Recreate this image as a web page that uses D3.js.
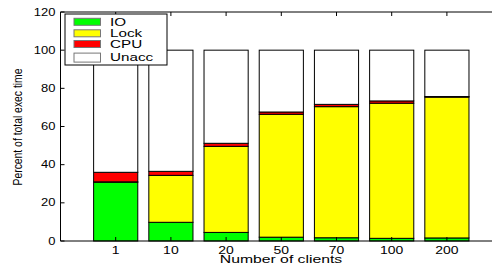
<!DOCTYPE html>
<html><head><meta charset="utf-8">
<script src="https://cdn.jsdelivr.net/npm/d3@7"></script>
<style>body{margin:0;background:#fff}svg{display:block}text{font-family:"Liberation Sans",Arial,sans-serif}</style>
</head><body><svg id="c" width="492" height="264"></svg>
<script>
const categories = ["1","10","20","50","70","100","200"];
const io   = [30.8, 9.8, 4.5, 2.0, 1.7, 1.4, 1.6];
const lock = [0.2, 24.6, 45.1, 64.4, 68.7, 70.8, 73.8];
const cpu  = [5.0, 2.1, 1.6, 1.2, 1.2, 1.2, 0.3];
const unacc = categories.map((c,i)=>100 - io[i] - lock[i] - cpu[i]);
const seriesNames = ["IO","Lock","CPU","Unacc"];
const colors = ["#00ff00","#ffff00","#ff0000","#ffffff"];
const yTicks = [0,20,40,60,80,100,120];

const svg = d3.select("#c");
const L=60.5, T=12, B=241;
const x = d3.scaleLinear().domain([0,8]).range([L, L+8*55.2]);
const y = d3.scaleLinear().domain([0,120]).range([B,T]);
const bw = 0.8*(x(1)-x(0));

// stretched text helper
function stext(parent, tx, ty, str, size, sx, anchor){
  return parent.append("text")
    .attr("transform", `translate(${tx},${ty}) scale(${sx},1)`)
    .attr("text-anchor", anchor||"start")
    .attr("font-size", size).text(str);
}

const rows = categories.map((c,i)=>({cat:c, idx:i+1, IO:io[i], Lock:lock[i], CPU:cpu[i], Unacc:unacc[i]}));
const stacked = d3.stack().keys(seriesNames)(rows);

const g = svg.append("g");
stacked.forEach((s,si)=>{
  g.selectAll(null).data(s).enter().append("rect")
    .attr("x", d=>x(d.data.idx)-bw/2)
    .attr("width", bw)
    .attr("y", d=>y(d[1]))
    .attr("height", d=>y(d[0])-y(d[1]))
    .attr("fill", colors[si])
    .attr("stroke","#000").attr("stroke-width",1);
});

// axes box
const R = x(8);
svg.append("line").attr("x1",L).attr("x2",R).attr("y1",T).attr("y2",T).attr("stroke","#000");
svg.append("line").attr("x1",L).attr("x2",R).attr("y1",B).attr("y2",B).attr("stroke","#000");
svg.append("line").attr("x1",L).attr("x2",L).attr("y1",T).attr("y2",B).attr("stroke","#000");

// y ticks
const yAx = svg.append("g");
yTicks.forEach(t=>{
  yAx.append("line").attr("x1",L).attr("x2",L+4).attr("y1",y(t)).attr("y2",y(t)).attr("stroke","#000");
  stext(yAx, L-5, y(t)+3.6, String(t), 10, 1.3, "end");
});
// x ticks and labels
categories.forEach((c,i)=>{
  const xx = x(i+1);
  svg.append("line").attr("x1",xx).attr("x2",xx).attr("y1",T).attr("y2",T+4).attr("stroke","#000");
  svg.append("line").attr("x1",xx).attr("x2",xx).attr("y1",B).attr("y2",B-4).attr("stroke","#000");
  stext(svg, xx, 254, c, 10, 1.4, "middle");
});

stext(svg, 281, 263, "Number of clients", 10.5, 1.5, "middle");
svg.append("text").attr("transform","translate(22,127) rotate(-90)").attr("text-anchor","middle")
  .attr("font-size",12).attr("textLength",117).attr("lengthAdjust","spacingAndGlyphs").text("Percent of total exec time");

// legend
const lg = svg.append("g");
lg.append("rect").attr("x",65).attr("y",14).attr("width",102).attr("height",51).attr("fill","#fff").attr("stroke","#000");
const rowY = [21.8, 33.3, 44.0, 57.6];
seriesNames.forEach((n,i)=>{
  const yy = rowY[i];
  const h = i===3 ? 9 : 7;
  lg.append("rect").attr("x",74).attr("y",yy-h/2).attr("width",26.5).attr("height",h).attr("fill",colors[i]).attr("stroke","#777");
  stext(lg, 110, yy+3.7, n, 10.5, 1.45, "start");
});
</script></body></html>
